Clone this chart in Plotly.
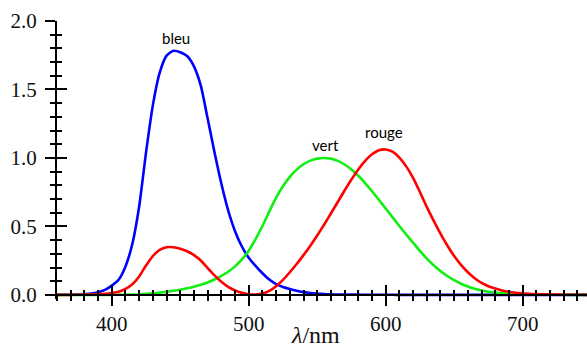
import plotly.graph_objects as go

# CIE 1931 colour matching functions (5 nm steps)
wavelength = list(range(360, 755, 5))
x_bar = [0.000130, 0.000232, 0.000415, 0.000742, 0.001368, 0.002236, 0.004243, 0.007650,
         0.014310, 0.023190, 0.043510, 0.077630, 0.134380, 0.214770, 0.283900, 0.328500,
         0.348280, 0.348060, 0.336200, 0.318700, 0.290800, 0.251100, 0.195360, 0.142100,
         0.095640, 0.057950, 0.032010, 0.014700, 0.004900, 0.002400, 0.009300, 0.029100,
         0.063270, 0.109600, 0.165500, 0.225750, 0.290400, 0.359700, 0.433450, 0.512050,
         0.594500, 0.678400, 0.762100, 0.842500, 0.916300, 0.978600, 1.026300, 1.056700,
         1.062200, 1.045600, 1.002600, 0.938400, 0.854450, 0.751400, 0.642400, 0.541900,
         0.447900, 0.360800, 0.283500, 0.218700, 0.164900, 0.121200, 0.087400, 0.063600,
         0.046770, 0.032900, 0.022700, 0.015840, 0.011359, 0.008111, 0.005790, 0.004109,
         0.002899, 0.002049, 0.001440, 0.001000, 0.000690, 0.000476, 0.000332]
y_bar = [0.0000039, 0.0000070, 0.0000124, 0.0000220, 0.000039, 0.000064, 0.000120, 0.000217,
         0.000396, 0.000640, 0.001210, 0.002180, 0.004000, 0.007300, 0.011600, 0.016840,
         0.023000, 0.029800, 0.038000, 0.048000, 0.060000, 0.073900, 0.090980, 0.112600,
         0.139020, 0.169300, 0.208020, 0.258600, 0.323000, 0.407300, 0.503000, 0.608200,
         0.710000, 0.793200, 0.862000, 0.914850, 0.954000, 0.980300, 0.994950, 1.000000,
         0.995000, 0.978600, 0.952000, 0.915400, 0.870000, 0.816300, 0.757000, 0.694900,
         0.631000, 0.566800, 0.503000, 0.441200, 0.381000, 0.321000, 0.265000, 0.217000,
         0.175000, 0.138200, 0.107000, 0.081600, 0.061000, 0.044580, 0.032000, 0.023200,
         0.017000, 0.011920, 0.008210, 0.005723, 0.004102, 0.002929, 0.002091, 0.001484,
         0.001047, 0.000740, 0.000520, 0.000361, 0.000249, 0.000172, 0.000120]
z_bar = [0.000606, 0.001086, 0.001946, 0.003486, 0.006450, 0.010550, 0.020050, 0.036210,
         0.067850, 0.110200, 0.207400, 0.371300, 0.645600, 1.039050, 1.385600, 1.622960,
         1.747060, 1.782600, 1.772110, 1.744100, 1.669200, 1.528100, 1.287640, 1.041900,
         0.812950, 0.616200, 0.465180, 0.353300, 0.272000, 0.212300, 0.158200, 0.111700,
         0.078250, 0.057250, 0.042160, 0.029840, 0.020300, 0.013400, 0.008750, 0.005750,
         0.003900, 0.002750, 0.002100, 0.001800, 0.001650, 0.001400, 0.001100, 0.001000,
         0.000800, 0.000600, 0.000340, 0.000240, 0.000190, 0.000100, 0.000050, 0.000030,
         0.000020, 0.000010, 0, 0, 0, 0, 0, 0,
         0, 0, 0, 0, 0, 0, 0, 0,
         0, 0, 0, 0, 0, 0, 0]

labels = ["bleu", "vert", "rouge"]
label_x = [447, 556, 599]
label_y = [1.875, 1.095, 1.19]

x_ticks = [400, 500, 600, 700]
y_ticks = [0.0, 0.5, 1.0, 1.5, 2.0]

X_RANGE = [360, 747]
Y_RANGE = [-0.03, 2.0]
x_pos = (0 - Y_RANGE[0]) / (Y_RANGE[1] - Y_RANGE[0])

fig = go.Figure()
for vals, col in [(z_bar, "#0000ff"), (y_bar, "#11ee11"), (x_bar, "#ff0000")]:
    fig.add_trace(go.Scatter(x=wavelength, y=vals, mode="lines",
                             line=dict(color=col, width=2.6, shape="spline", smoothing=0.6),
                             hoverinfo="skip", showlegend=False))
# helper trace so the overlaid (inside-tick) axes are drawn
fig.add_trace(go.Scatter(x=[None], y=[None], xaxis="x2", yaxis="y2",
                         showlegend=False, hoverinfo="skip"))

for t, lx, ly in zip(labels, label_x, label_y):
    fig.add_annotation(x=lx, y=ly, text=t, showarrow=False,
                       font=dict(family="Lato", size=15, color="black"))

# axis title
fig.add_annotation(xref="paper", yref="paper", x=(315 - 57) / 530, y=0, yanchor="bottom",
                   yshift=-50, borderpad=0, text="<i>λ</i>/nm", showarrow=False,
                   font=dict(family="Liberation Serif", size=24, color="#111"))

tickfont = dict(family="Liberation Serif", size=21, color="#111")
common_x = dict(range=X_RANGE, anchor="free", position=x_pos, showgrid=False, zeroline=False,
                tickcolor="black", tickwidth=2, ticklen=10, automargin=False,
                tickmode="array", tickvals=x_ticks)
common_y = dict(range=Y_RANGE, showgrid=False, zeroline=False, automargin=False,
                tickcolor="black", tickwidth=2, ticklen=10,
                tickmode="array", tickvals=y_ticks)

fig.update_layout(
    width=587, height=349,
    margin=dict(l=57, r=0, t=21, b=50),
    plot_bgcolor="white", paper_bgcolor="white",
    xaxis=dict(**common_x, showline=True, linecolor="black", linewidth=2,
               ticks="outside", tickfont=tickfont,
               minor=dict(ticks="outside", ticklen=5, tickwidth=1.5, tickcolor="black",
                          dtick=10, tick0=0, showgrid=False)),
    xaxis2=dict(**common_x, overlaying="x", side="bottom", showline=False,
                ticks="inside", showticklabels=False,
                minor=dict(ticks="inside", ticklen=5, tickwidth=1.5, tickcolor="black",
                           dtick=10, tick0=0, showgrid=False)),
    yaxis=dict(**common_y, anchor="x", showline=True, linecolor="black", linewidth=2,
               ticks="outside", tickfont=tickfont, tickformat=".1f", ticklabelstandoff=4,
               minor=dict(ticks="outside", ticklen=5, tickwidth=1.5, tickcolor="black",
                          dtick=0.1, tick0=0, showgrid=False)),
    yaxis2=dict(**common_y, overlaying="y", side="left", anchor="x2", showline=False,
                ticks="inside", showticklabels=False,
                minor=dict(ticks="inside", ticklen=5, tickwidth=1.5, tickcolor="black",
                           dtick=0.1, tick0=0, showgrid=False)),
)

fig.write_html("out.html", config={"displayModeBar": False},
               post_script="document.body.style.margin='0';document.body.style.overflow='hidden';")
